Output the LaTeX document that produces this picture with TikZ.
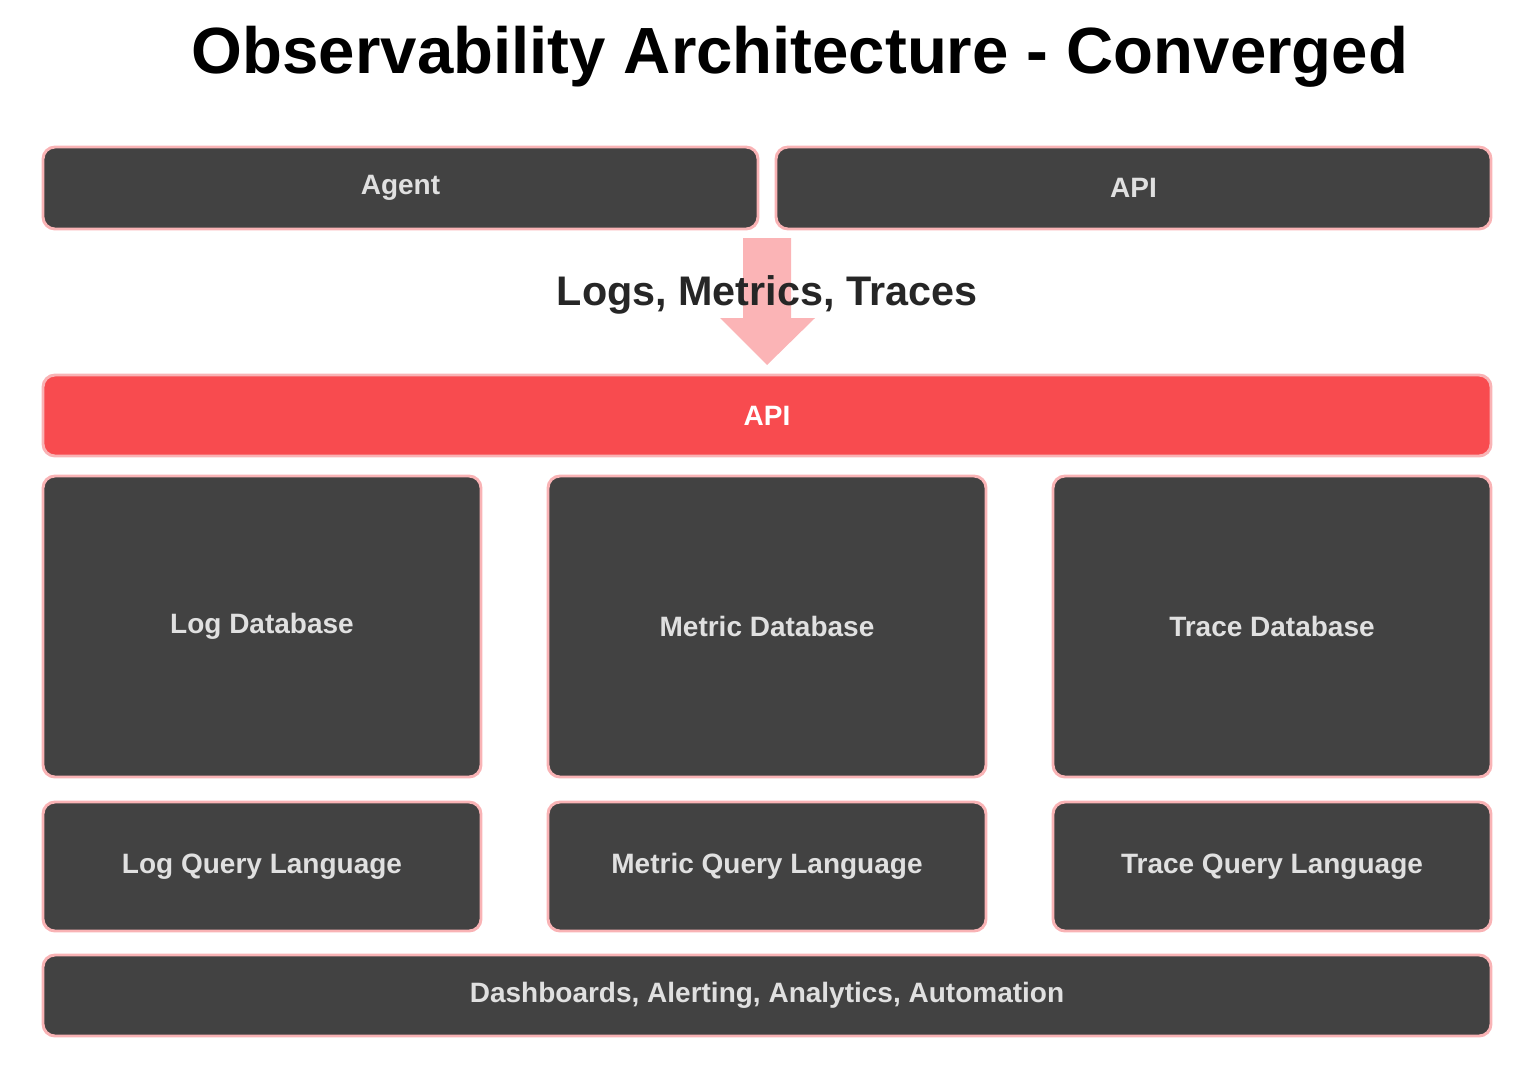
\documentclass[tikz,border=0pt]{standalone}
\usepackage{fontspec}
\setmainfont{Liberation Sans}
\begin{document}
\begin{tikzpicture}[x=0.75pt,y=-0.75pt,
 box/.style={draw=bpink,line width=2.2pt,fill=dark,rounded corners=9pt},
 lbl/.style={text=lgray,font=\bfseries\fontsize{21}{24}\selectfont}]
\definecolor{bpink}{HTML}{F9B3B5}
\definecolor{dark}{HTML}{424242}
\definecolor{lgray}{HTML}{E0E0E0}
\definecolor{red1}{HTML}{F84B4F}
\definecolor{arr}{HTML}{FBB4B6}
\useasboundingbox (0,0) rectangle (1532,1068);
\node[font=\bfseries\fontsize{49}{56}\selectfont] (title) at (800,57) {Observability Architecture - Converged};
\draw[box] (43,147) rectangle (758,229) node[midway,lbl] (agent) {Agent};
\draw[box] (776,147) rectangle (1491,229) node[midway,lbl] (api1) {API};
\fill[arr] (743,238) -- (791,238) -- (791,318) -- (815,318) -- (767,365) -- (720,318) -- (743,318) -- cycle;
\node[font=\bfseries\fontsize{31}{36}\selectfont,text=black!85] (flow) at (767,295) {Logs, Metrics, Traces};
\draw[box,fill=red1] (43,375) rectangle (1491,456) node[midway,lbl,text=white] (api2) {API};
\draw[box] (43,476) rectangle (481,777) node[midway,lbl] (ldb) {Log Database};
\draw[box] (548,476) rectangle (986,777) node[midway,lbl] (mdb) {Metric Database};
\draw[box] (1053,476) rectangle (1491,777) node[midway,lbl] (tdb) {Trace Database};
\draw[box] (43,802) rectangle (481,931) node[midway,lbl] (lq) {Log Query Language};
\draw[box] (548,802) rectangle (986,931) node[midway,lbl] (mq) {Metric Query Language};
\draw[box] (1053,802) rectangle (1491,931) node[midway,lbl] (tq) {Trace Query Language};
\draw[box] (43,955) rectangle (1491,1036) node[midway,lbl] (dash) {Dashboards, Alerting, Analytics, Automation};
\end{tikzpicture}
\end{document}
